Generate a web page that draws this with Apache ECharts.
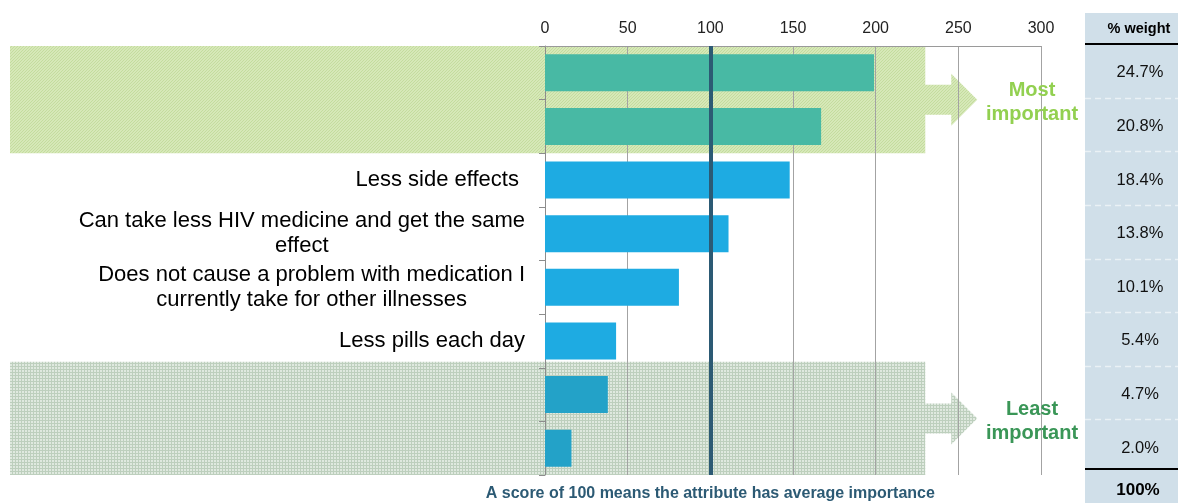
<!DOCTYPE html>
<html>
<head>
<meta charset="utf-8">
<script src="https://cdn.jsdelivr.net/npm/echarts@6/dist/echarts.min.js"></script>
<style>
  html, body { margin: 0; padding: 0; background: #fff; }
  #chart { width: 1178px; height: 503px; }
</style>
</head>
<body>
<div id="chart"></div>
<script>
// attributes, top = most important
const categories = [
  '',
  '',
  'Less side effects ',
  'Can take less HIV medicine and get the same\neffect',
  'Does not cause a problem with medication I\ncurrently take for other illnesses',
  'Less pills each day',
  '',
  ''
]
const scores = [199, 167, 148, 111, 81, 43, 38, 16]
const weights = ['24.7%', '20.8%', '18.4%', '13.8%', '10.1%', '5.4%', '4.7%', '2.0%']
const weightTotal = '100%'
const barColors = ['#48b9a4', '#48b9a4', '#1eabe2', '#1eabe2', '#1eabe2', '#1eabe2', '#23a2c8', '#23a2c8']
const avgScore = 100
const shadeEnd = 230

const font = 'Liberation Sans, Arial, sans-serif'

const chart = echarts.init(document.getElementById('chart'), null, { renderer: 'canvas' })

const makePattern = (bg, fg, kind) => {
  const c = document.createElement('canvas')
  c.width = 3
  c.height = 3
  const ctx = c.getContext('2d')
  ctx.fillStyle = bg
  ctx.fillRect(0, 0, 3, 3)
  ctx.fillStyle = fg
  if (kind === 'grid') {
    ctx.fillRect(0, 0, 3, 1)
    ctx.fillRect(0, 0, 1, 3)
  } else {
    ctx.fillRect(0, 0, 1, 1)
    ctx.fillRect(2, 1, 1, 1)
    ctx.fillRect(1, 2, 1, 1)
  }
  return { image: c, repeat: 'repeat' }
}

chart.setOption({
  animation: false,
  backgroundColor: '#fff',
  grid: { left: 545, right: 137, top: 46, bottom: 28 },
  xAxis: {
    type: 'value',
    position: 'top',
    min: 0,
    max: 300,
    interval: 50,
    axisLine: { show: true, lineStyle: { color: '#9a9a9a', width: 1 } },
    axisTick: { show: false },
    axisLabel: { fontSize: 16, color: '#222', margin: 9, fontFamily: font },
    splitLine: { show: true, lineStyle: { color: '#a3a3a3', width: 1 } }
  },
  yAxis: [
    {
      type: 'category',
      data: categories,
      inverse: true,
      axisLine: { show: true, lineStyle: { color: '#8c8c8c', width: 1 } },
      axisTick: { show: true, length: 6, lineStyle: { color: '#8c8c8c' } },
      axisLabel: {
        interval: 0,
        margin: 20,
        fontSize: 22,
        lineHeight: 25,
        color: '#000',
        fontFamily: font,
        formatter: v => v.includes('\n')
          ? v.split('\n').map(s => '{c|' + s + '}').join('\n')
          : v,
        rich: {
          c: { align: 'center', fontSize: 22, lineHeight: 25, color: '#000', fontFamily: font }
        }
      }
    },
    {
      type: 'category',
      data: weights,
      inverse: true,
      position: 'right',
      axisLine: { show: false },
      axisTick: { show: false },
      splitLine: { show: false },
      axisLabel: { interval: 0, align: 'center', margin: 99, fontSize: 16.5, color: '#111', fontFamily: font }
    }
  ],
  series: [
    {
      type: 'bar',
      yAxisIndex: 0,
      data: scores.map((v, i) => ({ value: v, itemStyle: { color: barColors[i] } })),
      barCategoryGap: '31%',
      markLine: {
        silent: true,
        symbol: 'none',
        label: { show: false },
        lineStyle: { color: '#2c5a74', width: 4, type: 'solid' },
        data: [{ xAxis: avgScore }]
      }
    }
  ]
})

// decorations placed from the axes
const yc = i => chart.convertToPixel({ yAxisIndex: 0 }, i)
const xv = v => chart.convertToPixel({ xAxisIndex: 0 }, v)
const band = yc(1) - yc(0)
const x0 = xv(shadeEnd)

const arrowShape = (y1, y2) => {
  const cy = (y1 + y2) / 2
  return [
    [10, y1], [x0, y1], [x0, cy - 15], [x0 + 26, cy - 15], [x0 + 26, cy - 26],
    [x0 + 52, cy], [x0 + 26, cy + 26], [x0 + 26, cy + 15], [x0, cy + 15], [x0, y2], [10, y2]
  ]
}

const mostTop = yc(0) - band / 2
const mostBot = yc(1) + band / 2
const leastTop = yc(6) - band / 2 - 6
const leastBot = yc(7) + band / 2

const graphics = [
  {
    type: 'polygon', z: -5, silent: true,
    shape: { points: arrowShape(mostTop, mostBot) },
    style: { fill: makePattern('#d6e8b8', '#c4dc9e') }
  },
  {
    type: 'polygon', z: -5, silent: true,
    shape: { points: arrowShape(leastTop, leastBot) },
    style: { fill: makePattern('#dfe9df', '#bdcfbd', 'grid') }
  },
  {
    type: 'text', z: 10, x: 1032, y: (mostTop + mostBot) / 2 + 3,
    style: {
      text: 'Most\nimportant', fill: '#92d050', font: 'bold 20px ' + font,
      align: 'center', verticalAlign: 'middle', lineHeight: 24
    }
  },
  {
    type: 'text', z: 10, x: 1032, y: (leastTop + leastBot) / 2 + 3,
    style: {
      text: 'Least\nimportant', fill: '#3a9657', font: 'bold 20px ' + font,
      align: 'center', verticalAlign: 'middle', lineHeight: 24
    }
  },
  // weight table
  {
    type: 'rect', z: -5, silent: true,
    shape: { x: 1085, y: 13, width: 100, height: 490 },
    style: { fill: '#d0dfe9' }
  },
  {
    type: 'text', z: 10, x: 1139, y: 29,
    style: { text: '% weight', fill: '#000', font: 'bold 14.5px ' + font, align: 'center', verticalAlign: 'middle' }
  },
  {
    type: 'line', z: 5, silent: true,
    shape: { x1: 1085, y1: 44, x2: 1178, y2: 44 },
    style: { stroke: '#000', lineWidth: 2 }
  },
  {
    type: 'line', z: 5, silent: true,
    shape: { x1: 1085, y1: 469, x2: 1178, y2: 469 },
    style: { stroke: '#000', lineWidth: 2 }
  },
  {
    type: 'text', z: 10, x: 1138, y: 490,
    style: { text: weightTotal, fill: '#000', font: 'bold 17px ' + font, align: 'center', verticalAlign: 'middle' }
  },
  {
    type: 'text', z: 10, x: xv(avgScore), y: 494,
    style: {
      text: 'A score of 100 means the attribute has average importance',
      fill: '#2c5a74', font: 'bold 16px ' + font, align: 'center', verticalAlign: 'middle'
    }
  }
]

for (let i = 1; i < categories.length; i++) {
  const y = Math.round(yc(i) - band / 2 - 2) + 0.5
  graphics.push({
    type: 'line', z: 5, silent: true,
    shape: { x1: 1085, y1: y, x2: 1178, y2: y },
    style: { stroke: 'rgba(255,255,255,0.55)', lineWidth: 1.5, lineDash: [6, 4] }
  })
}

chart.setOption({ graphic: graphics })
</script>
</body>
</html>
